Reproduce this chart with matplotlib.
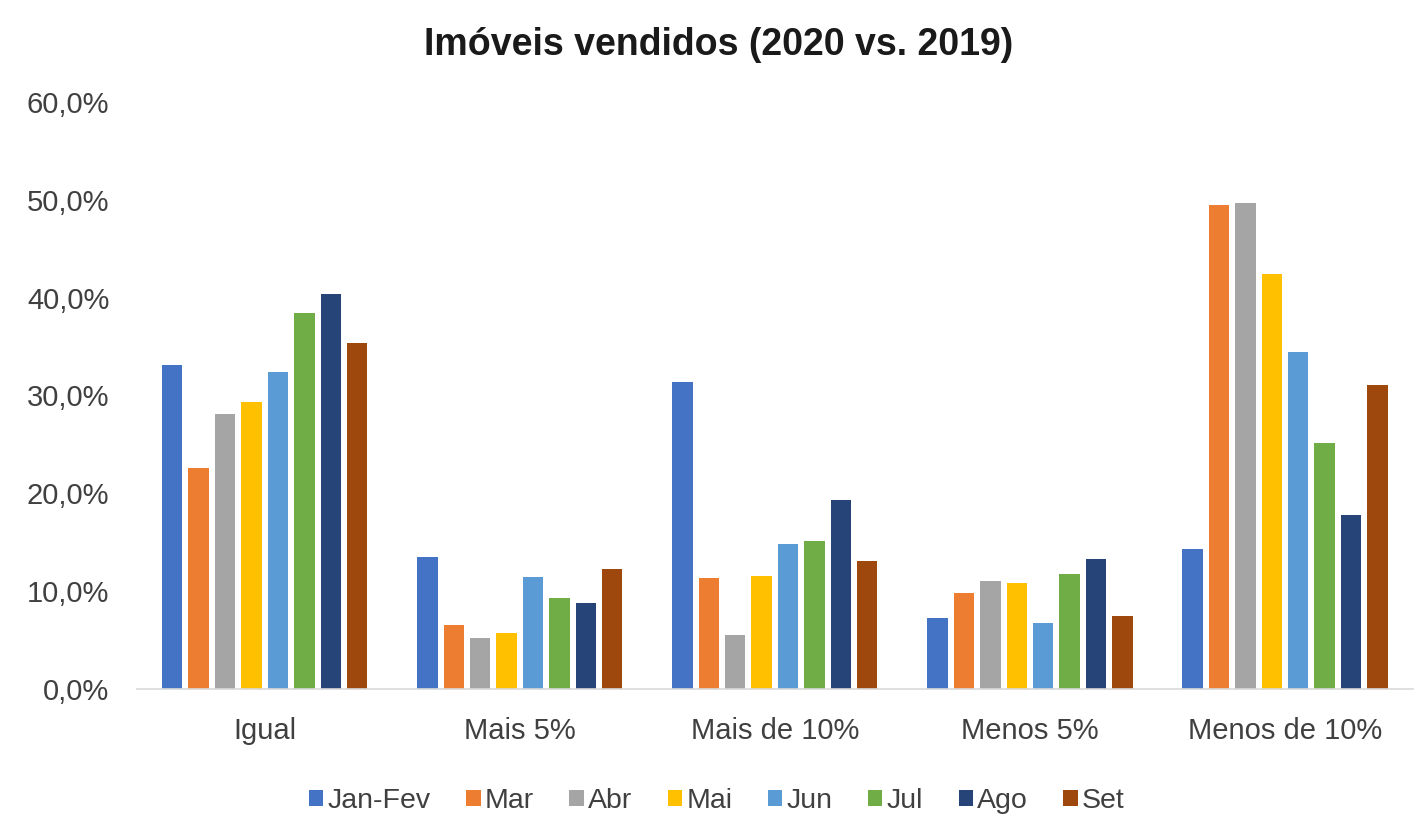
import matplotlib
matplotlib.use("Agg")
import matplotlib.pyplot as plt
import numpy as np
from matplotlib.ticker import FuncFormatter

plt.rcParams['font.family'] = ['Liberation Sans', 'DejaVu Sans']

categories = ["Igual", "Mais 5%", "Mais de 10%", "Menos 5%", "Menos de 10%"]
series_names = ["Jan-Fev", "Mar", "Abr", "Mai", "Jun", "Jul", "Ago", "Set"]
jan_fev = [33.1, 13.5, 31.4, 7.3, 14.3]
mar = [22.6, 6.5, 11.3, 9.8, 49.5]
abr = [28.1, 5.2, 5.5, 11.0, 49.7]
mai = [29.3, 5.7, 11.6, 10.8, 42.4]
jun = [32.4, 11.5, 14.8, 6.7, 34.4]
jul = [38.4, 9.3, 15.1, 11.8, 25.1]
ago = [40.4, 8.8, 19.3, 13.3, 17.8]
set_ = [35.4, 12.3, 13.1, 7.5, 31.1]
series = [jan_fev, mar, abr, mai, jun, jul, ago, set_]
colors = ["#4472C4", "#ED7D31", "#A5A5A5", "#FFC000", "#5B9BD5", "#70AD47", "#264478", "#9E480E"]
yticks = [0, 10, 20, 30, 40, 50, 60]

fig = plt.figure(figsize=(14.14, 8.19), dpi=100)
ax = fig.add_axes([0.097, 0.1587, 0.902, 0.7168])

x = np.arange(len(categories))
slot = 0.1035
width = 0.08
for i, (name, vals, c) in enumerate(zip(series_names, series, colors)):
    ax.bar(x + (i - 3.5) * slot, vals, width=width, color=c, label=name)

ax.set_xlim(-0.5, len(categories) - 0.5)
ax.set_ylim(0, 60)
ax.set_yticks(yticks)
ax.yaxis.set_major_formatter(FuncFormatter(lambda v, p: f"{v:.1f}%".replace('.', ',')))
ax.set_xticks(x)
ax.set_xticklabels(categories)
for s in ['top', 'right', 'left']:
    ax.spines[s].set_visible(False)
ax.spines['bottom'].set_color('#D9D9D9')
ax.spines['bottom'].set_linewidth(1.2)
ax.tick_params(axis='both', length=0, colors='#404040', labelsize=21)
ax.tick_params(axis='x', pad=20)
ax.tick_params(axis='y', pad=20)

fig.text(0.508, 0.945, "Imóveis vendidos (2020 vs. 2019)", ha='center', va='center',
         fontsize=27, fontweight='bold', color='#1a1a1a')

leg = fig.legend(loc='center', bbox_to_anchor=(0.507, 0.022), ncol=8, frameon=False,
                 fontsize=20.5, handlelength=0.5, handleheight=0.5, handletextpad=0.15,
                 columnspacing=1.25, labelcolor='#404040')

fig.savefig("out.png", dpi=100)
